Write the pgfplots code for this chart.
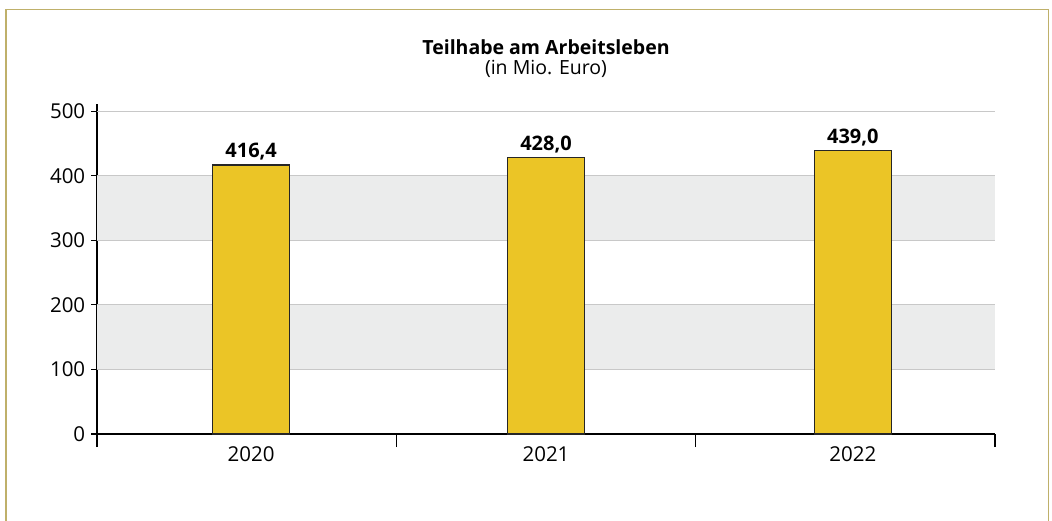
\documentclass[border=0pt]{standalone}
\usepackage{fontspec}
\setmainfont{Open Sans}
\usepackage{pgfplots}
\pgfplotsset{compat=1.18}
\definecolor{barfill}{HTML}{EBC526}
\definecolor{bandgray}{HTML}{EBECEC}
\definecolor{gridgray}{HTML}{C8C8C8}
\definecolor{framecol}{HTML}{BFB06A}
\begin{document}
\begin{tikzpicture}
\path[use as bounding box] (0pt,0pt) rectangle (1052pt,-520pt);
\draw[framecol,line width=1.6pt] (6pt,-530pt) -- (6pt,-9.5pt) -- (1048.5pt,-9.5pt) -- (1048.5pt,-530pt);
\node[font=\fontsize{19.5}{22}\selectfont\bfseries] at (546pt,-47pt) {Teilhabe am Arbeitsleben};
\node[font=\fontsize{19.5}{22}\selectfont] at (546pt,-69pt) {(in Mio. Euro)};
\begin{axis}[
  scale only axis,
  width=898pt, height=330pt,
  at={(97pt,-434pt)}, anchor=south west,
  xmin=-0.5, xmax=2.5,
  ymin=0, ymax=511,
  axis x line=bottom, axis y line=left,
  x axis line style={-, line width=2pt, black},
  y axis line style={-, line width=2.6pt, black},
  /pgf/number format/assume math mode=true,
  ytick={0,100,200,300,400,500},
  ytick style={black, line width=1.2pt},
  tick align=outside,
  xtick={-0.5,0.5,1.5,2.5},
  xticklabels={},
  xtick style={black, line width=1.2pt},
  x tick style={/pgfplots/major tick length=13pt},
  y tick style={/pgfplots/major tick length=6pt},
  extra x ticks={0.015,1,2.025},
  extra x tick labels={2020,2021,2022},
  extra x tick style={x tick style={/pgfplots/major tick length=0pt}},
  ticklabel style={font=\fontsize{20.5}{23}\selectfont},
  yticklabel style={xshift=-4pt},
  xticklabel style={yshift=-5pt},
  ybar, bar width=77pt,
  bar shift=0pt,
  nodes near coords={\bfseries\pgfmathprintnumber[fixed,fixed zerofill,precision=1,use comma,assume math mode=true]{\pgfplotspointmeta}},
  every node near coord/.append style={font=\fontsize{20}{22}\selectfont\bfseries, black, inner sep=3pt, yshift=1pt},
  clip=false,
]
\fill[bandgray] (axis cs:-0.5,100) rectangle (axis cs:2.5,200);
\fill[bandgray] (axis cs:-0.5,300) rectangle (axis cs:2.5,400);
\foreach \yy in {100,200,300,400,500} {
  \edef\tmp{\noexpand\draw[gridgray, line width=1.2pt] (axis cs:-0.5,\yy) -- (axis cs:2.5,\yy);}
  \tmp
}
\addplot[fill=barfill, draw=black!85, line width=1.5pt] coordinates {(0.015,416.4) (1,428.0) (2.025,439.0)};
\end{axis}
\end{tikzpicture}
\end{document}
